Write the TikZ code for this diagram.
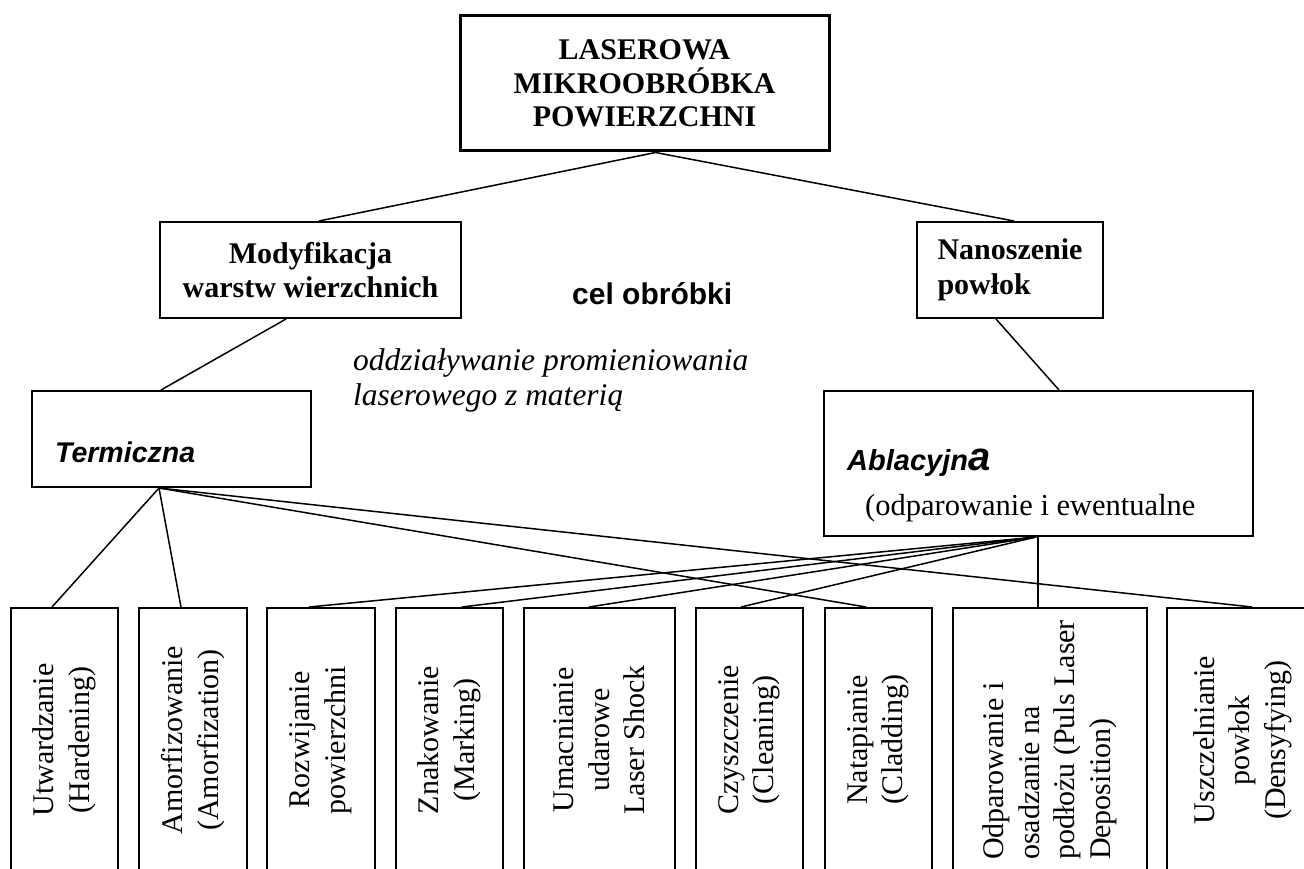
\documentclass[tikz,border=0pt]{standalone}
\usepackage{fontspec}
\setmainfont{Liberation Serif}
\newfontfamily\arialf{Liberation Sans}
\usetikzlibrary{calc}
\begin{document}
\begin{tikzpicture}[x=1pt,y=-1pt,
  box/.style={draw, line width=2pt, inner sep=0pt},
  conn/.style={line width=1.5pt},
  vtext/.style={rotate=90, align=center, inner sep=0pt, font=\fontsize{30}{35.5}\selectfont},
  btext/.style={align=center, inner sep=0pt, font=\fontsize{30}{34}\selectfont\bfseries},
]
\useasboundingbox (0,0) rectangle (1304,869);
\clip (0,0) rectangle (1304,869);
% upper boxes
\node[box, line width=3pt, minimum width=369pt, minimum height=135pt] (top) at (644.5,83.5) {};
\node[btext, font=\fontsize{30}{33.5}\selectfont\bfseries] (toptxt) at (top.center) {LASEROWA\\MIKROOBRÓBKA\\POWIERZCHNI};
\node[box, minimum width=301pt, minimum height=96pt] (mod) at (310.5,270) {};
\node[btext] (modtxt) at (mod.center) {Modyfikacja\\warstw wierzchnich};
\node[box, minimum width=186pt, minimum height=96pt] (nan) at (1010,270) {};
\node[btext, align=left, font=\fontsize{30}{35}\selectfont\bfseries] (nantxt) at (nan.center) {Nanoszenie\\powłok};
\node[anchor=base west, inner sep=0pt, font=\arialf\bfseries\fontsize{30}{34}\selectfont] (cel) at (572,304) {cel obróbki};
\node[box, minimum width=279pt, minimum height=96pt] (term) at (171.5,439) {};
\node[anchor=base west, inner sep=0pt, font=\arialf\bfseries\itshape\fontsize{28.5}{34}\selectfont] (termtxt) at (55,462) {Termiczna};
\node[anchor=base west, inner sep=0pt, align=left, font=\itshape\fontsize{31.5}{35}\selectfont] (odd) at (353,405) {oddziaływanie promieniowania\\laserowego z materią};
\node[box, minimum width=429pt, minimum height=145pt] (abl) at (1038.5,463.5) {};
\node[anchor=base west, inner sep=0pt, font=\arialf\bfseries\itshape\fontsize{29}{34}\selectfont] (abltxt) at (847,470) {Ablacyjn{\fontsize{40}{40}\selectfont a}};
\node[anchor=base west, inner sep=0pt, font=\fontsize{30.5}{35}\selectfont] (abltxt2) at (865,515) {(odparowanie i ewentualne};
% bottom boxes
\foreach \n/\cx/\w in {b1/64.5/107, b2/193/108, b3/321/108, b4/449.5/107, b5/599.5/151, b6/749.5/107, b7/878.5/107, b8/1050/194, b9/1242.5/151}
  \node[box, minimum width=\w pt, minimum height=264pt] (\n) at (\cx,740) {};
\node[vtext] (t1) at (b1.center) {Utwardzanie\\(Hardening)};
\node[vtext] (t2) at (b2.center) {Amorfizowanie\\(Amorfization)};
\node[vtext] (t3) at (b3.center) {Rozwijanie\\powierzchni};
\node[vtext] (t4) at (b4.center) {Znakowanie\\(Marking)};
\node[vtext] (t5) at (b5.center) {Umacnianie\\udarowe\\Laser Shock};
\node[vtext] (t6) at (b6.center) {Czyszczenie\\(Cleaning)};
\node[vtext] (t7) at (b7.center) {Natapianie\\(Cladding)};
\node[vtext, align=left] (t8) at (b8.center) {Odparowanie i\\osadzanie na\\podłożu (Puls Laser\\Deposition)};
\node[vtext] (t9) at (b9.center) {Uszczelnianie\\powłok\\(Densyfying)};
% connectors
\coordinate (tp) at ($(top.south west)+(197,0)$);
\coordinate (tb) at ($(term.south west)+(128,0)$);
\coordinate (ab) at ($(abl.south west)+(213,0)$);
\draw[conn] (tp) -- ($(mod.north west)+(160,0)$);
\draw[conn] (tp) -- ($(nan.north west)+(98,0)$);
\draw[conn] ($(mod.south west)+(127,0)$) -- ($(term.north west)+(130,0)$);
\draw[conn] ($(nan.south west)+(80,0)$) -- ($(abl.north west)+(236,0)$);
\draw[conn] (tb) -- ($(b1.north west)+(42,0)$);
\draw[conn] (tb) -- ($(b2.north west)+(43,0)$);
\draw[conn] (tb) -- ($(b7.north west)+(42,0)$);
\draw[conn] (tb) -- ($(b9.north west)+(86,0)$);
\draw[conn] (ab) -- ($(b3.north west)+(43,0)$);
\draw[conn] (ab) -- ($(b4.north west)+(67,0)$);
\draw[conn] (ab) -- ($(b5.north west)+(66,0)$);
\draw[conn] (ab) -- ($(b6.north west)+(46,0)$);
\coordinate (b8c) at ($(b8.north west)+(86,0)$);
\draw[conn] (b8c) -- (b8c |- abl.south);
\end{tikzpicture}
\end{document}
